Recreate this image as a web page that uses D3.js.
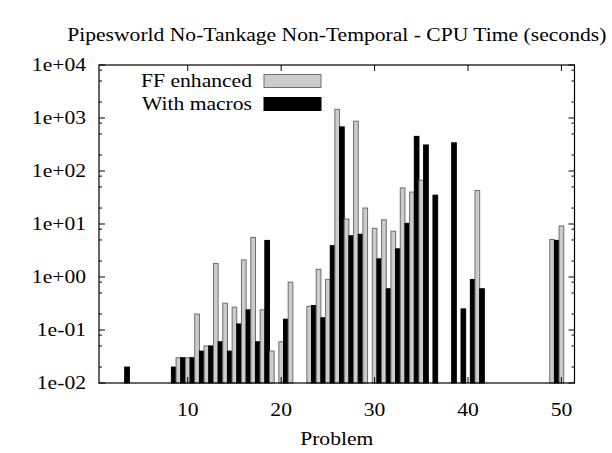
<!DOCTYPE html>
<html><head><meta charset="utf-8">
<script src="https://cdn.jsdelivr.net/npm/d3@7"></script>
<style>html,body{margin:0;padding:0;background:#fff;}</style>
</head><body>
<svg id="chart" width="612" height="453"></svg>
<script>
const title = "Pipesworld No-Tankage Non-Temporal - CPU Time (seconds)";
const xLabel = "Problem";
const seriesNames = ["FF enhanced", "With macros"];
const problems = [3, 8, 9, 10, 11, 12, 13, 14, 15, 16, 17, 18, 19, 20, 21, 23, 24, 25, 26, 27, 28, 29, 30, 31, 32, 33, 34, 35, 36, 38, 39, 40, 41, 49, 50];
const ffEnhanced = [null, null, 0.03, 0.03, 0.2, 0.05, 1.8, 0.32, 0.27, 2.1, 5.6, 0.24, 0.04, 0.06, 0.8, 0.28, 1.4, 0.9, 1460, 12.4, 870, 20, 8.3, 12, 7.3, 48, 40, 67, null, null, null, null, 43, 5.1, 9.2];
const withMacros = [0.02, 0.02, 0.03, 0.03, 0.04, 0.05, 0.06, 0.04, 0.13, 0.24, 0.06, 4.9, null, 0.16, null, 0.29, 0.17, 3.9, 680, 6.0, 6.4, null, 2.2, 0.6, 3.4, 10.3, 450, 310, 35, 340, 0.25, 0.9, 0.6, 4.9, null];
const xTicks = [10, 20, 30, 40, 50];
const yTicks = [1e-2, 1e-1, 1e0, 1e1, 1e2, 1e3, 1e4];
const yTickLabels = ["1e-02", "1e-01", "1e+00", "1e+01", "1e+02", "1e+03", "1e+04"];
const yMinorMult = [2, 5, 8];

const L = 99, R = 574.5, T = 65, B = 383;
const svg = d3.select("#chart");
const x = d3.scaleLinear().domain([0.5, 51.4]).range([L, R]);
const y = d3.scaleLog().domain([0.01, 10000]).range([B, T]);
const FONT = "Liberation Serif, Times New Roman, DejaVu Serif, serif";
const fs = 18, sx = 1.2;

function label(px, py, str, anchor, dy) {
  svg.append("text")
    .attr("transform", `translate(${px},${py}) scale(${sx},1)`)
    .attr("dy", dy || 0)
    .attr("text-anchor", anchor)
    .attr("font-family", FONT).attr("font-size", fs).attr("fill", "#000")
    .text(str);
}

const colors = {ff: {fill: "#cccccc", stroke: "#6e6e6e"}, mac: {fill: "#000000", stroke: "#000000"}};

const g = svg.append("g");
problems.forEach((p, i) => {
  const a = ffEnhanced[i];
  if (a != null) {
    g.append("rect").attr("x", x(p - 0.25)).attr("width", x(p + 0.25) - x(p - 0.25))
      .attr("y", y(a)).attr("height", B - y(a))
      .attr("fill", colors.ff.fill).attr("stroke", colors.ff.stroke).attr("stroke-width", 1);
  }
  const b = withMacros[i];
  if (b != null) {
    g.append("rect").attr("x", x(p + 0.25)).attr("width", x(p + 0.75) - x(p + 0.25))
      .attr("y", y(b)).attr("height", B - y(b))
      .attr("fill", colors.mac.fill).attr("stroke", colors.mac.stroke).attr("stroke-width", 1);
  }
});

const yMinor = [];
for (let k = 0; k < yTicks.length - 1; k++) yMinorMult.forEach(m => yMinor.push(yTicks[k] * m));
const axisG = svg.append("g").attr("stroke", "#000").attr("stroke-width", 1);
yTicks.forEach(v => {
  axisG.append("line").attr("x1", L).attr("x2", L + 6).attr("y1", y(v)).attr("y2", y(v));
  axisG.append("line").attr("x1", R).attr("x2", R - 6).attr("y1", y(v)).attr("y2", y(v));
});
yMinor.forEach(v => {
  axisG.append("line").attr("x1", L).attr("x2", L + 3).attr("y1", y(v)).attr("y2", y(v));
  axisG.append("line").attr("x1", R).attr("x2", R - 3).attr("y1", y(v)).attr("y2", y(v));
});
xTicks.forEach(v => {
  axisG.append("line").attr("x1", x(v)).attr("x2", x(v)).attr("y1", B).attr("y2", B - 6);
  axisG.append("line").attr("x1", x(v)).attr("x2", x(v)).attr("y1", T).attr("y2", T + 6);
});
svg.append("rect").attr("x", L).attr("y", T).attr("width", R - L).attr("height", B - T)
  .attr("fill", "none").attr("stroke", "#000").attr("stroke-width", 1.2);

yTicks.forEach((v, i) => label(86, y(v), yTickLabels[i], "end", "0.35em"));
xTicks.forEach(v => label(x(v), 416, String(v), "middle"));
label((L + R) / 2, 445, xLabel, "middle");
label((L + R) / 2, 41, title, "middle");

const leg = [{name: seriesNames[0], c: colors.ff, cy: 81}, {name: seriesNames[1], c: colors.mac, cy: 104}];
leg.forEach(d => {
  label(252, d.cy, d.name, "end", "0.35em");
  svg.append("rect").attr("x", 264).attr("y", d.cy - 6.5).attr("width", 57).attr("height", 13)
    .attr("fill", d.c.fill).attr("stroke", d.c.stroke).attr("stroke-width", 1);
});
</script>
</body></html>
